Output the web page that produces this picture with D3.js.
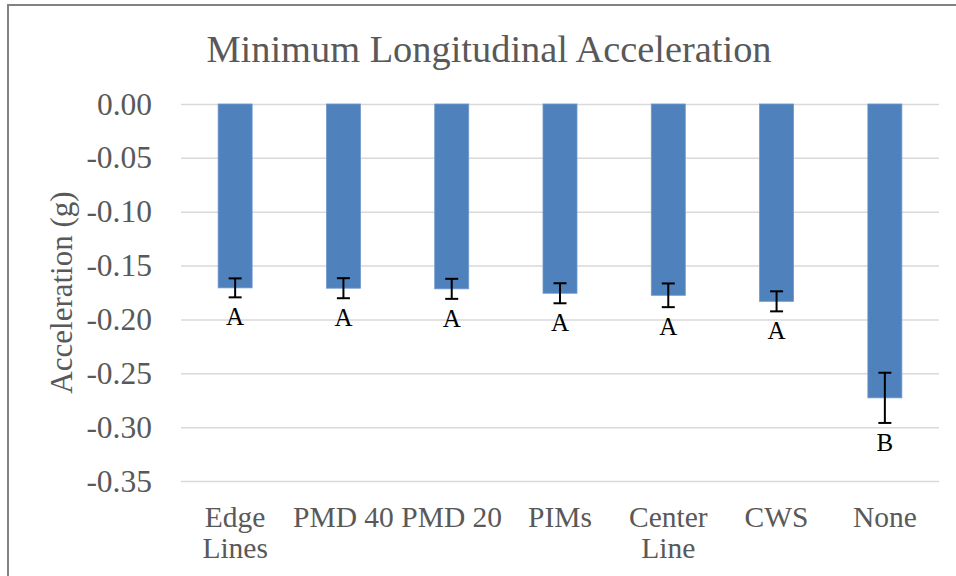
<!DOCTYPE html>
<html lang="en">

<head>
    <meta charset="UTF-8">
    <script src="https://d3js.org/d3.v7.min.js"></script>
    <title>Minimum Longitudinal Acceleration</title>
    <style>
        body { margin: 0; background: #fff; }
        svg text { font-family: "Liberation Serif", Tinos, "Times New Roman", Times, "DejaVu Serif", serif; }
    </style>
</head>

<body>
    <svg id="mainsvg" width="956" height="576"></svg>

    <script>
        // data
        const categories = ['Edge Lines', 'PMD 40', 'PMD 20', 'PIMs', 'Center Line', 'CWS', 'None']
        const means = [-0.1707, -0.1710, -0.1716, -0.1757, -0.1776, -0.1832, -0.2728]
        const errors = [0.0088, 0.0093, 0.0093, 0.0093, 0.0110, 0.0093, 0.0233]
        const groups = ['A', 'A', 'A', 'A', 'A', 'A', 'B']
        const yTicks = [0, -0.05, -0.10, -0.15, -0.20, -0.25, -0.30, -0.35]

        const svg = d3.select('#mainsvg')
        const width = +svg.attr('width')
        const height = +svg.attr('height')
        const margin = { top: 104, left: 181, bottom: 95, right: 17 }
        const innerWidth = width - margin.left - margin.right
        const innerHeight = height - margin.top - margin.bottom
        const textColor = '#595959'
        const serif = '"Liberation Serif", Tinos, "Times New Roman", Times, "DejaVu Serif", serif'

        // chart frame (runs off the right and bottom of the picture)
        svg.append('rect')
            .attr('x', 8).attr('y', 5)
            .attr('width', 980).attr('height', 620)
            .attr('fill', 'none')
            .attr('stroke', '#828282')
            .attr('stroke-width', 2)

        svg.append('text')
            .attr('x', 489).attr('y', 62)
            .attr('text-anchor', 'middle')
            .attr('font-size', 38.4)
            .attr('fill', textColor)
            .text('Minimum Longitudinal Acceleration')

        svg.append('text')
            .attr('transform', `translate(72, ${margin.top + innerHeight / 2}) rotate(-90)`)
            .attr('text-anchor', 'middle')
            .attr('font-size', 31)
            .attr('fill', textColor)
            .text('Acceleration (g)')

        const data = categories.map((c, i) => ({ cat: c, mean: means[i], err: errors[i], grp: groups[i] }))

        const xScale = d3.scaleBand()
            .domain(categories)
            .range([0, innerWidth])
            .paddingInner(0.686)
            .paddingOuter(0.343)

        const yScale = d3.scaleLinear()
            .domain([0, -0.35])
            .range([0, innerHeight])

        const g = svg.append('g')
            .attr('transform', `translate(${margin.left}, ${margin.top})`)

        // y axis with gridlines
        const yAxis = g.append('g')
            .call(d3.axisLeft(yScale)
                .tickValues(yTicks)
                .tickSize(-innerWidth)
                .tickPadding(29)
                .tickFormat(d => d.toFixed(2)))
        yAxis.attr('font-family', serif)
        yAxis.select('.domain').remove()
        yAxis.selectAll('.tick line')
            .attr('stroke', '#d9d9d9')
            .attr('stroke-width', 1.5)
        yAxis.selectAll('.tick text')
            .attr('font-size', 31.5)
            .attr('fill', textColor)

        // bars
        const cx = d => xScale(d.cat) + xScale.bandwidth() / 2
        g.selectAll('rect.bar')
            .data(data)
            .join('rect')
            .attr('class', 'bar')
            .attr('x', d => xScale(d.cat))
            .attr('y', yScale(0))
            .attr('width', xScale.bandwidth())
            .attr('height', d => yScale(d.mean) - yScale(0))
            .attr('fill', '#4f81bd')
            .attr('stroke', '#6f98cc')
            .attr('stroke-width', 0.8)

        // error bars
        const eb = g.selectAll('g.err')
            .data(data)
            .join('g')
            .attr('class', 'err')
            .attr('stroke', '#000')
            .attr('stroke-width', 2)
        eb.append('line')
            .attr('x1', cx).attr('x2', cx)
            .attr('y1', d => yScale(d.mean + d.err))
            .attr('y2', d => yScale(d.mean - d.err))
        eb.append('line')
            .attr('x1', d => cx(d) - 6.5).attr('x2', d => cx(d) + 6.5)
            .attr('y1', d => yScale(d.mean + d.err))
            .attr('y2', d => yScale(d.mean + d.err))
        eb.append('line')
            .attr('x1', d => cx(d) - 6.5).attr('x2', d => cx(d) + 6.5)
            .attr('y1', d => yScale(d.mean - d.err))
            .attr('y2', d => yScale(d.mean - d.err))

        // significance letters
        g.selectAll('text.grp')
            .data(data)
            .join('text')
            .attr('class', 'grp')
            .attr('x', cx)
            .attr('y', d => yScale(d.mean - d.err) + 28)
            .attr('text-anchor', 'middle')
            .attr('font-size', 25)
            .attr('fill', '#000')
            .text(d => d.grp)

        // x axis labels, wrapped like Excel does
        const xAxis = g.append('g')
            .attr('transform', `translate(0, ${innerHeight})`)
            .call(d3.axisBottom(xScale).tickSize(0))
        xAxis.attr('font-family', serif)
        xAxis.select('.domain').remove()
        xAxis.selectAll('.tick text')
            .attr('font-size', 29.5)
            .attr('fill', textColor)
            .attr('y', 46)
            .attr('dy', 0)
            .each(function (d) {
                const t = d3.select(this)
                const step = xScale.step()
                const words = d.split(' ')
                let lines = [words[0]]
                for (let i = 1; i < words.length; i++) {
                    const trial = lines[lines.length - 1] + ' ' + words[i]
                    t.text(trial)
                    if (this.getComputedTextLength() > step - 4) lines.push(words[i])
                    else lines[lines.length - 1] = trial
                }
                t.text(null)
                lines.forEach((ln, i) => {
                    t.append('tspan')
                        .attr('x', 0)
                        .attr('y', 46 + i * 31)
                        .text(ln)
                })
            })
    </script>
</body>

</html>
